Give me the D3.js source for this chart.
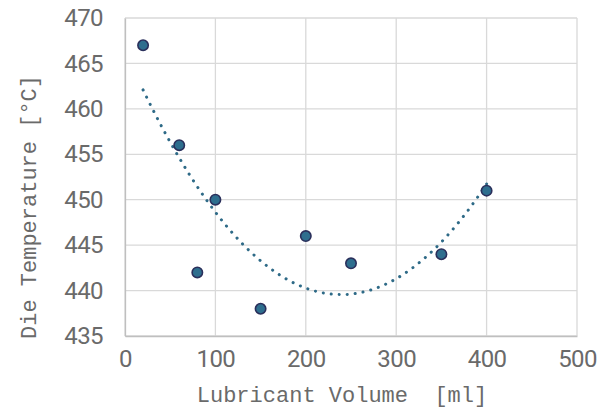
<!DOCTYPE html>
<html>
<head>
<meta charset="utf-8">
<script src="https://cdn.jsdelivr.net/npm/d3@7"></script>
<style>
  body { margin: 0; background: #fff; }
  .tick text { font-family: Roboto, sans-serif; font-size: 24px; fill: #6a6a6a; letter-spacing: -0.6px; }
  .title { font-family: "Liberation Mono", "DejaVu Sans Mono", monospace; font-size: 22px; fill: #6a6a6a; }
</style>
</head>
<body>
<svg id="chart" width="609" height="419"></svg>
<script>
// lubricant volume vs die temperature
var volume = [20, 60, 80, 100, 150, 200, 250, 350, 400];
var dieTemp = [467, 456, 442, 450, 438, 446, 443, 444, 451];
var xTicks = [0, 100, 200, 300, 400, 500];
var yTicks = [435, 440, 445, 450, 455, 460, 465, 470];

var svg = d3.select("#chart");
var margin = {left: 125, right: 32, top: 18, bottom: 83};
var w = 609 - margin.left - margin.right;
var h = 419 - margin.top - margin.bottom;

var x = d3.scaleLinear().domain([0, 500]).range([margin.left, margin.left + w]);
var y = d3.scaleLinear().domain([435, 470]).range([margin.top + h, margin.top]);

// grid
svg.append("g").selectAll("line").data(yTicks).join("line")
    .attr("x1", x(0)).attr("x2", x(500))
    .attr("y1", d => y(d)).attr("y2", d => y(d))
    .attr("stroke", "#d9d9d9").attr("stroke-width", 1.3);
svg.append("g").selectAll("line").data(xTicks).join("line")
    .attr("x1", d => x(d)).attr("x2", d => x(d))
    .attr("y1", y(435)).attr("y2", y(470))
    .attr("stroke", "#d9d9d9").attr("stroke-width", 1.3);

// axes (labels only)
var xAxis = svg.append("g")
    .attr("transform", `translate(0,${y(435)})`)
    .call(d3.axisBottom(x).tickValues(xTicks).tickSize(0).tickPadding(14));
var yAxis = svg.append("g")
    .attr("transform", `translate(${x(0)},0)`)
    .call(d3.axisLeft(y).tickValues(yTicks).tickSize(0).tickPadding(22));
xAxis.select(".domain").attr("stroke", "#bfbfbf").attr("stroke-width", 1.3);
yAxis.select(".domain").attr("stroke", "#bfbfbf").attr("stroke-width", 1.3);

// quadratic least squares trendline
function polyFit(xs, ys) {
    var s = [0, 0, 0, 0, 0], t = [0, 0, 0];
    xs.forEach((xv, i) => {
        for (var k = 0; k < 5; k++) s[k] += Math.pow(xv, k);
        for (var k = 0; k < 3; k++) t[k] += ys[i] * Math.pow(xv, k);
    });
    var A = [[s[0], s[1], s[2], t[0]], [s[1], s[2], s[3], t[1]], [s[2], s[3], s[4], t[2]]];
    for (var i = 0; i < 3; i++) {
        for (var j = i + 1; j < 3; j++) {
            var f = A[j][i] / A[i][i];
            for (var k = i; k < 4; k++) A[j][k] -= f * A[i][k];
        }
    }
    var c = [0, 0, 0];
    for (var i = 2; i >= 0; i--) {
        var sum = A[i][3];
        for (var k = i + 1; k < 3; k++) sum -= A[i][k] * c[k];
        c[i] = sum / A[i][i];
    }
    return c;
}
var coef = polyFit(volume, dieTemp);
var trend = d3.range(d3.min(volume), d3.max(volume) + 1, 2)
    .map(v => [v, coef[0] + coef[1] * v + coef[2] * v * v]);

svg.append("path")
    .datum(trend)
    .attr("fill", "none")
    .attr("stroke", "#2e6a87")
    .attr("stroke-width", 3)
    .attr("stroke-linecap", "round")
    .attr("stroke-dasharray", "0.1 7.9")
    .attr("d", d3.line().x(d => x(d[0])).y(d => y(d[1])));

// points
svg.append("g").selectAll("circle").data(volume).join("circle")
    .attr("cx", d => x(d))
    .attr("cy", (d, i) => y(dieTemp[i]))
    .attr("r", 5.2)
    .attr("fill", "#2e6e8e")
    .attr("stroke", "#2a2f5b")
    .attr("stroke-width", 1.6);

// titles
svg.append("text").attr("class", "title")
    .attr("x", 342).attr("y", 402)
    .attr("text-anchor", "middle")
    .attr("xml:space", "preserve")
    .text("Lubricant Volume  [ml]");
svg.append("text").attr("class", "title")
    .attr("transform", "translate(36,207) rotate(-90)")
    .attr("text-anchor", "middle")
    .text("Die Temperature [°C]");
</script>
</body>
</html>
